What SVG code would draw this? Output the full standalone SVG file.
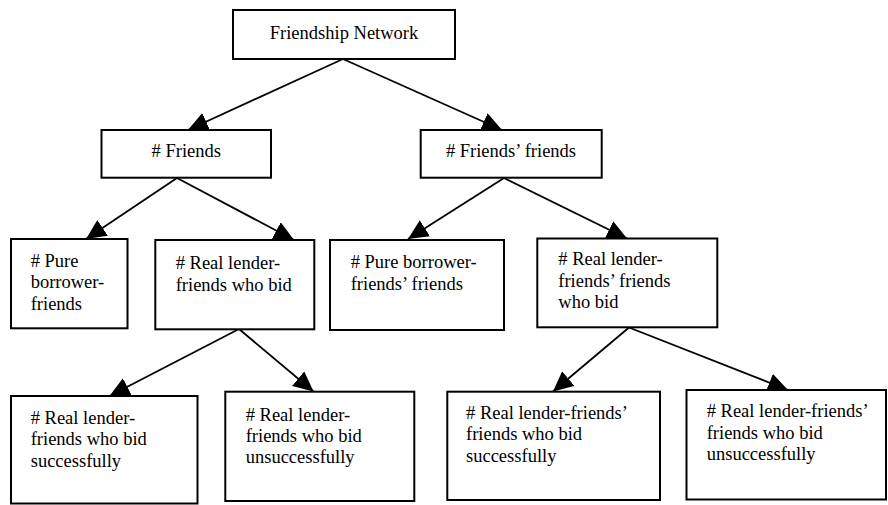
<svg xmlns="http://www.w3.org/2000/svg" width="888" height="505" viewBox="0 0 888 505">
  <style>
    .box { fill: #ffffff; stroke: #000000; stroke-width: 2; }
    .lbl { font-family: "Liberation Serif", "Times New Roman", serif; font-size: 18.5px; fill: #000000; }
    .mid { text-anchor: middle; }
    .edge { fill: none; stroke: #000000; stroke-width: 1.8; marker-end: url(#head); }
  </style>
  <defs>
    <marker id="head" markerUnits="userSpaceOnUse" markerWidth="22" markerHeight="20" refX="20" refY="9.5" orient="auto">
      <path d="M0,0 L20,9.5 L0,19 Z" fill="#000000"/>
    </marker>
  </defs>

  <rect width="888" height="505" fill="#ffffff"/>

  <!-- connectors -->
  <g id="connectors">
    <path class="edge" d="M343,59 L188,130"/>
    <path class="edge" d="M343,59 L502,130"/>
    <path class="edge" d="M177,178 L86,239"/>
    <path class="edge" d="M177,178 L294,240"/>
    <path class="edge" d="M504,178 L408,239"/>
    <path class="edge" d="M504,178 L627,238.5"/>
    <path class="edge" d="M239,329 L109.5,396"/>
    <path class="edge" d="M239,329 L313.5,391.5"/>
    <path class="edge" d="M629,327.5 L553,391.5"/>
    <path class="edge" d="M629,327.5 L788,390"/>
  </g>

  <!-- level 0 -->
  <g id="friendship-network">
    <rect class="box" x="233" y="10" width="222" height="49"/>
    <text class="lbl mid" x="344" y="39">Friendship Network</text>
  </g>

  <!-- level 1 -->
  <g id="friends">
    <rect class="box" x="101.5" y="130" width="169.5" height="47.7"/>
    <text class="lbl mid" x="186.3" y="157"># Friends</text>
  </g>
  <g id="friends-friends">
    <rect class="box" x="420.7" y="130" width="181" height="47.7"/>
    <text class="lbl mid" x="511" y="157"># Friends’ friends</text>
  </g>

  <!-- level 2 -->
  <g id="pure-borrower-friends">
    <rect class="box" x="11" y="239" width="116.5" height="89.3"/>
    <text class="lbl">
      <tspan x="30.7" y="266.5"># Pure</tspan>
      <tspan x="30.7" y="288">borrower-</tspan>
      <tspan x="30.7" y="309.5">friends</tspan>
    </text>
  </g>
  <g id="real-lender-friends-bid">
    <rect class="box" x="155.3" y="240" width="159" height="89.3"/>
    <text class="lbl">
      <tspan x="175.7" y="269"># Real lender-</tspan>
      <tspan x="175.7" y="290.5">friends who bid</tspan>
    </text>
  </g>
  <g id="pure-borrower-friends-friends">
    <rect class="box" x="330" y="240" width="174" height="90"/>
    <text class="lbl">
      <tspan x="350.7" y="268"># Pure borrower-</tspan>
      <tspan x="350.7" y="289.5">friends’ friends</tspan>
    </text>
  </g>
  <g id="real-lender-friends-friends-bid">
    <rect class="box" x="537.3" y="238.5" width="180" height="88.8"/>
    <text class="lbl">
      <tspan x="558.3" y="265"># Real lender-</tspan>
      <tspan x="558.3" y="286.5">friends’ friends</tspan>
      <tspan x="558.3" y="308">who bid</tspan>
    </text>
  </g>

  <!-- level 3 -->
  <g id="friends-bid-successfully">
    <rect class="box" x="11" y="396" width="186.5" height="107.5"/>
    <text class="lbl">
      <tspan x="30.7" y="423.5"># Real lender-</tspan>
      <tspan x="30.7" y="445">friends who bid</tspan>
      <tspan x="30.7" y="466.5">successfully</tspan>
    </text>
  </g>
  <g id="friends-bid-unsuccessfully">
    <rect class="box" x="225.3" y="391.7" width="189" height="109.3"/>
    <text class="lbl">
      <tspan x="245.7" y="420.5"># Real lender-</tspan>
      <tspan x="245.7" y="442">friends who bid</tspan>
      <tspan x="245.7" y="463">unsuccessfully</tspan>
    </text>
  </g>
  <g id="friends-friends-bid-successfully">
    <rect class="box" x="447.3" y="391.7" width="212.7" height="108.3"/>
    <text class="lbl">
      <tspan x="466" y="418.5"># Real lender-friends’</tspan>
      <tspan x="466" y="440">friends who bid</tspan>
      <tspan x="466" y="461.5">successfully</tspan>
    </text>
  </g>
  <g id="friends-friends-bid-unsuccessfully">
    <rect class="box" x="686.5" y="390" width="199.5" height="109.5"/>
    <text class="lbl">
      <tspan x="706.7" y="417"># Real lender-friends’</tspan>
      <tspan x="706.7" y="438.5">friends who bid</tspan>
      <tspan x="706.7" y="460">unsuccessfully</tspan>
    </text>
  </g>
</svg>
